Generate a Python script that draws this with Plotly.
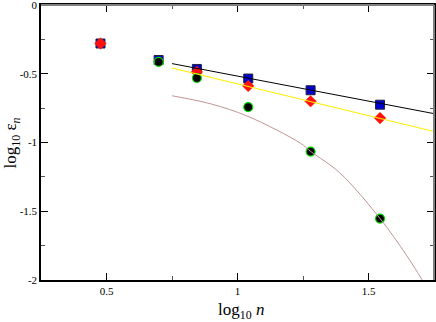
import plotly.graph_objects as go

# log10 n positions of the data points
x_blue = [0.477, 0.699, 0.845, 1.041, 1.279, 1.544]
y_blue = [-0.28, -0.40, -0.465, -0.535, -0.62, -0.725]

x_red = [0.477, 0.845, 1.041, 1.279, 1.544]
y_red = [-0.28, -0.487, -0.589, -0.70, -0.822]

x_green = [0.699, 0.845, 1.041, 1.279, 1.544]
y_green = [-0.414, -0.531, -0.742, -1.066, -1.553]

# fitted lines (end points)
x_fit = [0.75, 1.75]
y_fit_black = [-0.426, -0.79]
y_fit_yellow = [-0.458, -0.92]

# curved fit through the green points
x_curve = [0.75, 0.9, 1.04, 1.24, 1.28, 1.39, 1.545, 1.645, 1.705]
y_curve = [-0.66, -0.72, -0.81, -1.005, -1.066, -1.22, -1.555, -1.82, -2.0]

fig = go.Figure()

fig.add_trace(go.Scatter(x=x_blue, y=y_blue, mode='markers',
                         marker=dict(symbol='square', size=9, color='#0000cc',
                                     line=dict(color='#202040', width=1))))
fig.add_trace(go.Scatter(x=x_red, y=y_red, mode='markers',
                         marker=dict(symbol='diamond', size=9, color='#ff1010',
                                     line=dict(color='#ff3000', width=0.5))))
fig.add_trace(go.Scatter(x=x_green, y=y_green, mode='markers',
                         marker=dict(symbol='circle', size=9, color='black',
                                     line=dict(color='#00dd00', width=1.2))))

fig.add_trace(go.Scatter(x=x_fit, y=y_fit_black, mode='lines',
                         line=dict(color='black', width=1)))
fig.add_trace(go.Scatter(x=x_fit, y=y_fit_yellow, mode='lines',
                         line=dict(color='#ffee00', width=1.2)))
fig.add_trace(go.Scatter(x=x_curve, y=y_curve, mode='lines',
                         line=dict(color='#c09595', width=1, shape='spline')))

serif = 'Liberation Serif'

fig.update_xaxes(range=[0.25, 1.75], tickvals=[0.5, 1, 1.5], ticktext=['0.5', '1', '1.5'],
                 ticks='inside', ticklen=7, tickcolor='black', tickwidth=1,
                 minor=dict(tickvals=[0.75, 1.25], ticks='inside', ticklen=4, tickcolor='#555'),
                 showline=True, linecolor='black', linewidth=1.5, mirror='ticks',
                 showgrid=False, zeroline=False, automargin=False, ticklabeloverflow='allow',
                 tickfont=dict(family=serif, size=11, color='black'))
fig.update_yaxes(range=[-2, 0], tickvals=[0, -0.5, -1, -1.5, -2],
                 ticktext=['0', '-0.5', '-1', '-1.5', '-2'],
                 ticks='inside', ticklen=7, tickcolor='black', tickwidth=1,
                 minor=dict(tickvals=[-0.25, -0.75, -1.25, -1.75], ticks='inside', ticklen=4, tickcolor='#555'),
                 showline=True, linecolor='black', linewidth=1.5, mirror='ticks',
                 showgrid=False, zeroline=False, automargin=False, ticklabeloverflow='allow',
                 tickfont=dict(family=serif, size=11, color='black'))

# axis titles
fig.add_annotation(text='log<sub>10</sub> <i>n</i>', xref='paper', yref='paper',
                   x=0.51, y=-0.066, yanchor='top', showarrow=False,
                   font=dict(family=serif, size=17, color='black'))
fig.add_annotation(text='log<sub>10</sub> ε<sub><i>n</i></sub>', xref='paper', yref='paper',
                   x=-0.074, y=0.5, xanchor='center', textangle=-90, showarrow=False,
                   font=dict(family=serif, size=17, color='black'))

# gray top and right frame
fig.add_shape(type='line', xref='paper', yref='paper', x0=0, x1=1, y0=1, y1=1,
              line=dict(color='#808080', width=2))
fig.add_shape(type='line', xref='paper', yref='paper', x0=1, x1=1, y0=0, y1=1,
              line=dict(color='#808080', width=2))

fig.update_layout(width=436, height=322, showlegend=False,
                  margin=dict(l=41, r=2, t=5, b=42),
                  plot_bgcolor='white', paper_bgcolor='white')

fig.write_html("out.html", config={'displayModeBar': False},
               post_script="document.body.style.margin='0';")
